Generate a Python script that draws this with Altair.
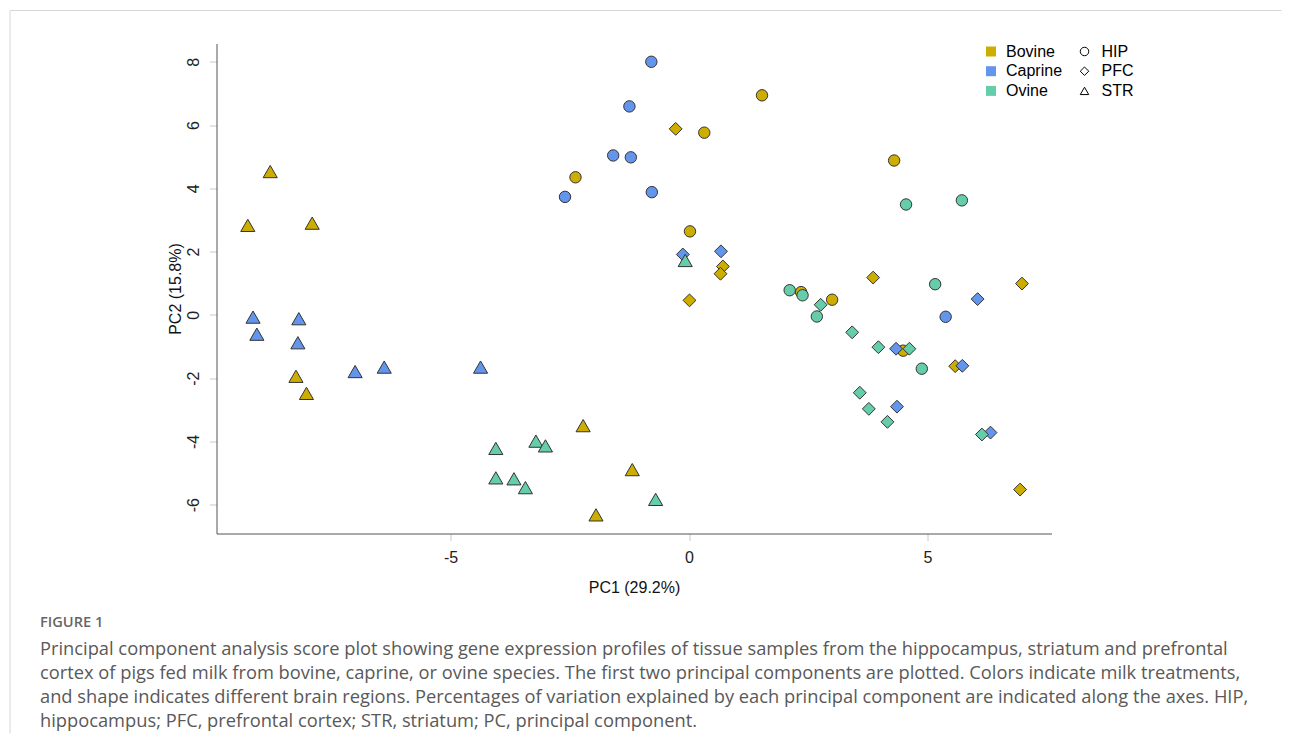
import altair as alt
import pandas as pd

SPECIES = ["Bovine", "Caprine", "Ovine"]
REGIONS = ["HIP", "PFC", "STR"]
COLORS = ["#CDAD00", "#6495ED", "#66CDAA"]
SHAPES = ["circle", "diamond", "triangle-up"]
SIZES = [130, 200, 240]

# PC scores
bovine_hip_pc1 = [1.53, 0.32, -2.38, 4.30, 0.02, 2.35, 3.00, 4.49]
bovine_hip_pc2 = [6.94, 5.76, 4.35, 4.88, 2.64, 0.72, 0.48, -1.13]
bovine_pfc_pc1 = [-0.28, 0.71, 0.66, 0.01, 3.86, 6.98, 5.58, 6.94]
bovine_pfc_pc2 = [5.88, 1.53, 1.30, 0.46, 1.18, 0.99, -1.62, -5.52]
bovine_str_pc1 = [-8.78, -9.25, -7.90, -8.24, -8.02, -2.22, -1.19, -1.95]
bovine_str_pc2 = [4.53, 2.83, 2.90, -1.94, -2.48, -3.50, -4.89, -6.32]

caprine_hip_pc1 = [-0.79, -1.25, -1.59, -1.22, -0.78, -2.60, 5.38]
caprine_hip_pc2 = [8.00, 6.59, 5.04, 4.98, 3.88, 3.73, -0.06]
caprine_pfc_pc1 = [-0.13, 0.67, 6.05, 4.34, 5.73, 4.36, 6.32]
caprine_pfc_pc2 = [1.91, 2.01, 0.50, -1.07, -1.61, -2.90, -3.72]
caprine_str_pc1 = [-9.14, -8.18, -9.06, -8.20, -7.00, -6.39, -4.37]
caprine_str_pc2 = [-0.07, -0.12, -0.61, -0.88, -1.79, -1.65, -1.65]

ovine_hip_pc1 = [4.55, 5.72, 2.11, 2.38, 2.68, 5.16, 4.88]
ovine_hip_pc2 = [3.49, 3.62, 0.78, 0.62, -0.05, 0.97, -1.70]
ovine_pfc_pc1 = [2.76, 3.42, 3.97, 4.62, 3.58, 3.77, 4.16, 6.14]
ovine_pfc_pc2 = [0.32, -0.55, -1.02, -1.07, -2.46, -2.97, -3.38, -3.78]
ovine_str_pc1 = [-0.08, -4.05, -3.21, -3.01, -4.05, -3.67, -3.43, -0.70]
ovine_str_pc2 = [1.72, -4.22, -3.99, -4.14, -5.15, -5.18, -5.46, -5.83]

X_TICKS = [-5, 0, 5]
Y_TICKS = [-6, -4, -2, 0, 2, 4, 6, 8]
X_DOMAIN = [-9.906, 7.599]
Y_DOMAIN = [-6.909, 8.578]

X_TITLE = "PC1 (29.2%)"
Y_TITLE = "PC2 (15.8%)"
FIG_LABEL = "FIGURE 1"
CAPTION_LINES = [
    "Principal component analysis score plot showing gene expression profiles of tissue samples from the hippocampus, striatum and prefrontal",
    "cortex of pigs fed milk from bovine, caprine, or ovine species. The first two principal components are plotted. Colors indicate milk treatments,",
    "and shape indicates different brain regions. Percentages of variation explained by each principal component are indicated along the axes. HIP,",
    "hippocampus; PFC, prefrontal cortex; STR, striatum; PC, principal component.",
]

groups = [
    ("Bovine", "HIP", bovine_hip_pc1, bovine_hip_pc2),
    ("Bovine", "PFC", bovine_pfc_pc1, bovine_pfc_pc2),
    ("Bovine", "STR", bovine_str_pc1, bovine_str_pc2),
    ("Caprine", "HIP", caprine_hip_pc1, caprine_hip_pc2),
    ("Caprine", "PFC", caprine_pfc_pc1, caprine_pfc_pc2),
    ("Caprine", "STR", caprine_str_pc1, caprine_str_pc2),
    ("Ovine", "HIP", ovine_hip_pc1, ovine_hip_pc2),
    ("Ovine", "PFC", ovine_pfc_pc1, ovine_pfc_pc2),
    ("Ovine", "STR", ovine_str_pc1, ovine_str_pc2),
]
rows = []
for sp, reg, xs, ys in groups:
    for a, b in zip(xs, ys):
        rows.append({"species": sp, "region": reg, "tissue": reg, "pc1": a, "pc2": b})
df = pd.DataFrame(rows)
df["order"] = range(len(df))

FONT = "Liberation Sans"
MINUS_FIX = "replace(datum.label, '\u2212', '-')"

points = alt.Chart(df).mark_point(
    filled=True, stroke="#333333", strokeWidth=1, opacity=1
).encode(
    x=alt.X(
        "pc1:Q",
        scale=alt.Scale(domain=X_DOMAIN, nice=False, zero=False),
        axis=alt.Axis(
            values=X_TICKS, title=X_TITLE, grid=False, labelExpr=MINUS_FIX,
            domainColor="#555555", domainWidth=1,
            tickColor="#c8c8c8", tickSize=7, tickWidth=1,
            labelFont=FONT, labelFontSize=16, labelColor="#222222",
            labelBaseline="alphabetic", labelPadding=21.5,
            titleFont=FONT, titleFontSize=16, titleFontWeight="normal",
            titleColor="#111111", titleBaseline="alphabetic", titleY=59,
        ),
    ),
    y=alt.Y(
        "pc2:Q",
        scale=alt.Scale(domain=Y_DOMAIN, nice=False, zero=False),
        axis=alt.Axis(
            values=Y_TICKS, title=Y_TITLE, grid=False, labelExpr=MINUS_FIX,
            domainColor="#555555", domainWidth=1,
            tickColor="#c8c8c8", tickSize=7, tickWidth=1,
            labelFont=FONT, labelFontSize=16, labelColor="#222222",
            labelAngle=270, labelAlign="center", labelBaseline="alphabetic",
            labelPadding=11,
            titleFont=FONT, titleFontSize=16, titleFontWeight="normal",
            titleColor="#111111", titleBaseline="alphabetic", titleX=-36,
        ),
    ),
    color=alt.Color(
        "species:N",
        scale=alt.Scale(domain=SPECIES, range=COLORS),
        legend=alt.Legend(
            title=None, orient="none", legendX=766.5, legendY=0,
            symbolType="square", symbolSize=100, symbolStrokeWidth=0,
            labelFont=FONT, labelFontSize=16, labelColor="#000000",
            labelOffset=7, rowPadding=3.7, padding=0,
        ),
    ),
    shape=alt.Shape(
        "region:N",
        scale=alt.Scale(domain=REGIONS, range=SHAPES),
        legend=alt.Legend(
            title=None, orient="none", legendX=860, legendY=0,
            symbolSize=72, symbolFillColor="white",
            symbolStrokeColor="black", symbolStrokeWidth=1,
            labelFont=FONT, labelFontSize=16, labelColor="#000000",
            labelOffset=9, rowPadding=3.7, padding=0,
        ),
    ),
    # size scale keeps its data-derived domain so its (hidden) legend is not merged with the shape legend
    size=alt.Size("tissue:O", scale=alt.Scale(range=SIZES), legend=None),
    order=alt.Order("order:Q"),
)

one = alt.Data(values=[{"a": 1}])
border_top = alt.Chart(one).mark_rule(color="#d6d6d6", strokeWidth=1).encode(
    x=alt.value(-206.5), x2=alt.value(1065), y=alt.value(-33)
)
border_left = alt.Chart(one).mark_rule(color="#d6d6d6", strokeWidth=1).encode(
    x=alt.value(-206.5), y=alt.value(-33), y2=alt.value(690)
)

fig_label = alt.Chart(alt.Data(values=[{"t": FIG_LABEL}])).mark_text(
    align="left", baseline="alphabetic", font="Open Sans", fontSize=14.6,
    fontWeight=600, color="#666666"
).encode(x=alt.value(-176.5), y=alt.value(583), text="t:N")

caption = alt.Chart(alt.Data(values=[{"t": "\n".join(CAPTION_LINES)}])).mark_text(
    align="left", baseline="alphabetic", font="Open Sans", fontSize=18.3,
    color="#595959", lineBreak="\n", lineHeight=24
).encode(x=alt.value(-176.5), y=alt.value(611), text="t:N")

chart = alt.layer(border_top, border_left, points, fig_label, caption).properties(
    width=835, height=490,
    padding={"left": 1.5, "top": 1.5, "right": 0, "bottom": 0},
).configure_view(stroke="transparent")

chart.save("out.html", embed_options={"renderer": "svg", "actions": False})
